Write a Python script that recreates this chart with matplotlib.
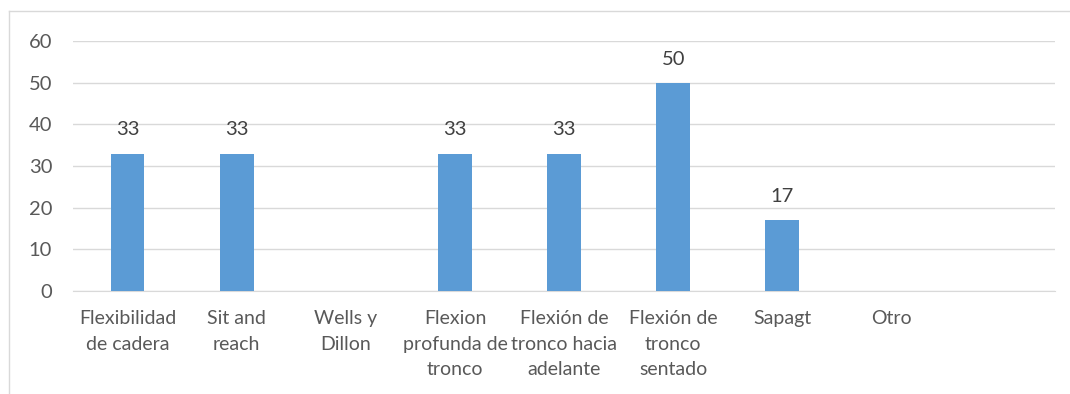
import numpy as np
import matplotlib
matplotlib.use("Agg")
from matplotlib import pyplot as plt
from matplotlib.lines import Line2D

# datos
categorias = ["Flexibilidad\nde cadera", "Sit and\nreach", "Wells y\nDillon",
              "Flexion\nprofunda de\ntronco", "Flexión de\ntronco hacia\nadelante",
              "Flexión de\ntronco\nsentado", "Sapagt", "Otro", ""]
valores = [33, 33, np.nan, 33, 33, 50, 17, np.nan, np.nan]
yticks = [0, 10, 20, 30, 40, 50, 60]

plt.rcParams['font.family'] = ['Lato', 'DejaVu Sans']

fig = plt.figure(figsize=(10.7, 3.94), dpi=100)
ax = fig.add_axes([0.0682, 0.2614, 0.918, 0.6345])

x = np.arange(len(categorias))
ax.bar(x, valores, width=0.31, color="#5b9bd5", zorder=3)

# etiquetas de datos
for xi, v in zip(x, valores):
    if not np.isnan(v):
        ax.annotate(f"{v:.0f}", (xi, v), xytext=(0, 13), textcoords="offset points",
                    ha="center", va="baseline", fontsize=14.5, color="#404040")

ax.set_xlim(-0.5, len(categorias) - 0.5)
ax.set_ylim(0, 60)
ax.set_yticks(yticks)
ax.set_xticks(x)
ax.set_xticklabels(categorias, fontsize=14, color="#595959", linespacing=1.6)
ax.tick_params(axis="y", length=0, pad=15, labelsize=14.5, labelcolor="#595959")
ax.tick_params(axis="x", length=0, pad=14)
ax.grid(axis="y", color="#d9d9d9", linewidth=1, zorder=0)
for s in ["top", "right", "left"]:
    ax.spines[s].set_visible(False)
ax.spines["bottom"].set_color("#d9d9d9")

# borde del gráfico
fig.add_artist(Line2D([9 / 1070, 1], [1 - 11 / 394, 1 - 11 / 394], transform=fig.transFigure,
                      color="#d9d9d9", linewidth=1))
fig.add_artist(Line2D([9 / 1070, 9 / 1070], [0, 1 - 11 / 394], transform=fig.transFigure,
                      color="#d9d9d9", linewidth=1))

fig.savefig("out.png", dpi=100)
